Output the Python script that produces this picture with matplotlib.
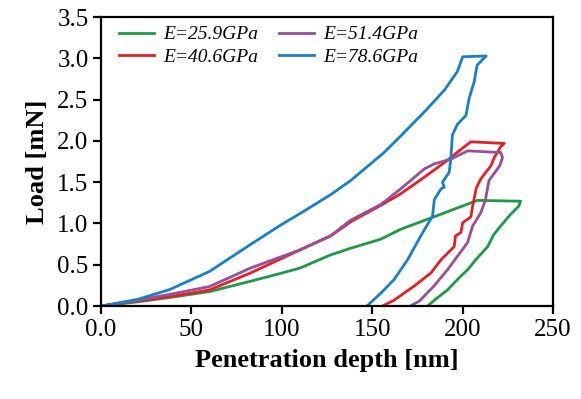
import matplotlib
matplotlib.use('Agg')
import matplotlib.pyplot as plt

plt.rcParams['font.family'] = ['Liberation Serif', 'DejaVu Serif']
plt.rcParams['mathtext.fontset'] = 'stix'

labels = ['E=25.9GPa', 'E=40.6GPa', 'E=51.4GPa', 'E=78.6GPa']
colors = ['#1c9a48', '#e41f26', '#984f98', '#1a80c4']

# green, E=25.9GPa
depth_259 = [0, 20, 40, 60, 82.6, 100, 110, 127, 138, 154.7, 165.7, 184, 204.5, 208,
             232, 231, 226, 221, 217, 213.8, 208, 202.7, 197, 191.6, 186, 180.5]
load_259 = [0, 0.05, 0.11, 0.175, 0.30, 0.40, 0.46, 0.62, 0.70, 0.81, 0.93, 1.08, 1.25, 1.28,
            1.27, 1.21, 1.10, 0.97, 0.86, 0.72, 0.58, 0.44, 0.32, 0.195, 0.10, 0]

# red, E=40.6GPa
depth_406 = [0, 20, 40, 60, 82.6, 110, 127, 138, 154.7, 165.7, 178.7, 190, 198, 204.5,
             223, 221, 217.5, 215.6, 210, 207.5, 205.5, 204.5, 200, 199, 196, 195.3,
             188, 182.4, 173, 162, 155.6]
load_406 = [0, 0.06, 0.12, 0.195, 0.40, 0.68, 0.85, 1.02, 1.22, 1.36, 1.56, 1.74, 1.88, 1.99,
            1.97, 1.93, 1.80, 1.70, 1.54, 1.43, 1.21, 1.08, 1.01, 0.89, 0.85, 0.72,
            0.56, 0.40, 0.24, 0.07, 0]

# purple, E=51.4GPa
depth_514 = [0, 20, 40, 60, 82.6, 110, 127, 138, 154.7, 165.7, 178.7, 184, 193.5, 202.7,
             221, 222, 220.5, 214.5, 212.5, 210, 205.5, 202.7, 197, 191.6, 184, 176, 171]
load_514 = [0, 0.07, 0.15, 0.236, 0.46, 0.68, 0.85, 1.04, 1.23, 1.42, 1.66, 1.72, 1.78, 1.88,
            1.86, 1.80, 1.70, 1.52, 1.28, 1.13, 0.97, 0.77, 0.60, 0.44, 0.24, 0.06, 0]

# blue, E=78.6GPa
depth_786 = [0, 20, 38, 60, 82.6, 100, 110, 127, 138, 156.5, 165.7, 180, 190, 197, 200,
             213, 208, 207.3, 206.4, 203.6, 201.8, 197, 194.3, 193.5, 192.5, 188.8,
             189.8, 188, 184.3, 183.3, 176.8, 169.5, 162, 154.7, 147]
load_786 = [0, 0.08, 0.2, 0.42, 0.745, 0.99, 1.12, 1.35, 1.52, 1.86, 2.06, 2.38, 2.62, 2.84, 3.02,
            3.03, 2.92, 2.84, 2.72, 2.52, 2.31, 2.20, 2.07, 1.80, 1.62, 1.50,
            1.44, 1.42, 1.29, 1.09, 0.85, 0.56, 0.32, 0.155, 0]

series = [(depth_259, load_259), (depth_406, load_406),
          (depth_514, load_514), (depth_786, load_786)]

fig = plt.figure(figsize=(5.81, 3.99), dpi=100)
ax = fig.add_axes([0.174, 0.233, 0.778, 0.724])

for (x, y), c, lab in zip(series, colors, labels):
    ax.plot(x, y, color=c, lw=2.0, label=lab, solid_joinstyle='round')

ax.set_xlim(0, 250)
ax.set_ylim(0, 3.5)
ax.set_xticks([0, 50, 100, 150, 200, 250])
ax.set_xticklabels(['0.0', '50', '100', '150', '200', '250'])
ax.set_yticks([0, 0.5, 1.0, 1.5, 2.0, 2.5, 3.0, 3.5])
ax.set_yticklabels(['0.0', '0.5', '1.0', '1.5', '2.0', '2.5', '3.0', '3.5'])
ax.tick_params(direction='out', length=6, width=1.6, labelsize=18, pad=3)
for s in ax.spines.values():
    s.set_linewidth(1.6)

ax.set_xlabel('Penetration depth [nm]', fontsize=19, fontweight='bold', labelpad=6)
ax.set_ylabel('Load [mN]', fontsize=19, fontweight='bold', labelpad=6)

# legend order: column 1 = green, red; column 2 = purple, blue
leg = ax.legend(ncol=2, loc='upper left', bbox_to_anchor=(0.04, 0.97),
                frameon=False, borderaxespad=0, borderpad=0,
                handlelength=1.8, handletextpad=0.45, columnspacing=1.1,
                labelspacing=0.25, prop={'size': 14, 'style': 'italic'})

fig.savefig('out.png', dpi=100)
